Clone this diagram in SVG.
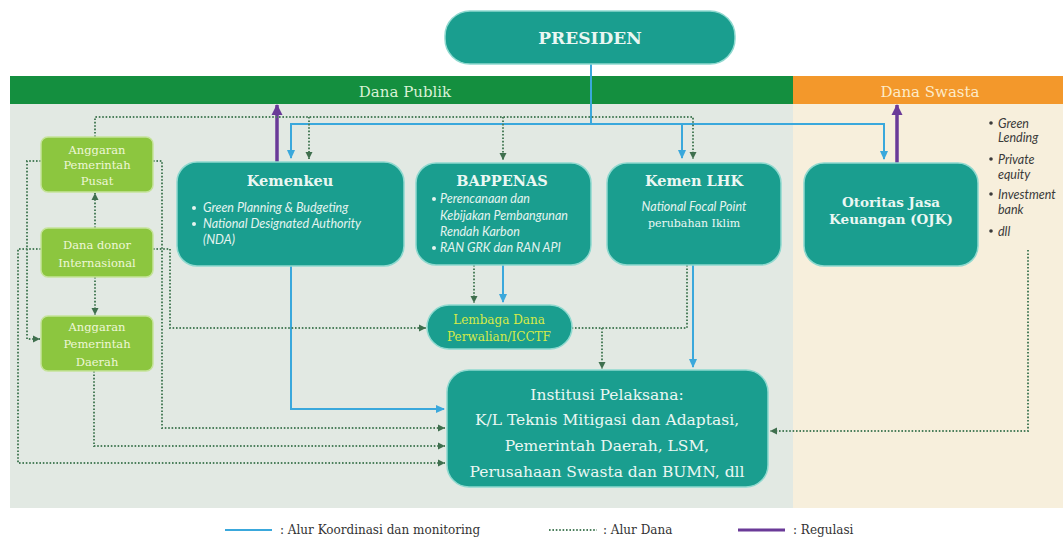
<svg xmlns="http://www.w3.org/2000/svg" width="1063" height="538" viewBox="0 0 1063 538">
<style>
.teal{fill:#1a9e8f;stroke:#8fd9cf;stroke-width:1.5}
.lg{fill:#8cc63f;stroke:#c5e39a;stroke-width:1.5}
.ttl{font-family:"DejaVu Serif",serif;font-weight:bold;fill:#eaf7f3;text-anchor:middle}
.srf{font-family:"DejaVu Serif",serif;fill:#eaf7f3}
.gtx{font-family:"DejaVu Serif",serif;font-size:11.5px;fill:#eef7d8;text-anchor:middle}
.it{font-family:Lato,"Open Sans",sans-serif;font-style:italic;font-size:12.5px;fill:#e4f4ef}
.rb{font-family:Lato,"Open Sans",sans-serif;font-style:italic;font-size:12.5px;fill:#3a3a3a}
.leg{font-family:"DejaVu Serif",serif;font-size:12px;fill:#333}
.blue{fill:none;stroke:#3aa8dc;stroke-width:2}
.dot{fill:none;stroke:#4c7f5c;stroke-width:2;stroke-dasharray:1.6 1.8}
.pur{fill:none;stroke:#6a3a98;stroke-width:3.5}
</style>
<defs>
<marker id="ab" markerUnits="userSpaceOnUse" markerWidth="10" markerHeight="10" refX="8" refY="5" orient="auto"><path d="M0,1 L9,5 L0,9 Z" fill="#3aa8dc"/></marker>
<marker id="ag" markerUnits="userSpaceOnUse" markerWidth="8" markerHeight="8" refX="7" refY="4" orient="auto"><path d="M0,0.5 L7,4 L0,7.5 Z" fill="#3f6f4e"/></marker>
<marker id="ap" markerUnits="userSpaceOnUse" markerWidth="12" markerHeight="12" refX="10" refY="6" orient="auto"><path d="M0,0.5 L11,6 L0,11.5 Z" fill="#6a3a98"/></marker>
</defs>
<rect width="1063" height="538" fill="#ffffff"/>
<g id="panels">
<rect x="10" y="104" width="783" height="404" fill="#e2e9e3"/>
<rect x="793" y="104" width="270" height="404" fill="#f7efdc"/>
<rect x="10" y="76" width="783" height="28" fill="#148f3f"/>
<rect x="793" y="76" width="270" height="28" fill="#f3982b"/>
<text x="405" y="97" font-family="DejaVu Serif,serif" font-size="15" fill="#d9f2d6" text-anchor="middle">Dana Publik</text>
<text x="930" y="97" font-family="DejaVu Serif,serif" font-size="15" fill="#fdebc8" text-anchor="middle">Dana Swasta</text>
</g>
<g id="connectors">
<path class="blue" d="M591,64 V124"/>
<path class="blue" d="M591,124 H291 V158" marker-end="url(#ab)"/>
<path class="blue" d="M591,124 H682 V158" marker-end="url(#ab)"/>
<path class="blue" d="M682,124 H884 V159" marker-end="url(#ab)"/>
<path class="blue" d="M291,266 V409 H444" marker-end="url(#ab)"/>
<path class="blue" d="M503,265 V302" marker-end="url(#ab)"/>
<path class="blue" d="M693,265 V367" marker-end="url(#ab)"/>
<path class="pur" d="M277,162 V105" marker-end="url(#ap)"/>
<path class="pur" d="M897,163 V105" marker-end="url(#ap)"/>
<path class="dot" d="M95,137 V117 H693 V159" marker-end="url(#ag)"/>
<path class="dot" d="M309,117 V159" marker-end="url(#ag)"/>
<path class="dot" d="M503,117 V160" marker-end="url(#ag)"/>
<path class="dot" d="M41,161 H27 V339 H40" marker-end="url(#ag)"/>
<path class="dot" d="M41,249 H18 V463 H445" marker-end="url(#ag)"/>
<path class="dot" d="M153,161 H162 V428 H445" marker-end="url(#ag)"/>
<path class="dot" d="M153,249 H170 V328 H426" marker-end="url(#ag)"/>
<path class="dot" d="M95,228 V193" marker-end="url(#ag)"/>
<path class="dot" d="M95,277 V315" marker-end="url(#ag)"/>
<path class="dot" d="M94,371 V446 H445" marker-end="url(#ag)"/>
<path class="dot" d="M474,265 V303" marker-end="url(#ag)"/>
<path class="dot" d="M687,265 V328 H572"/>
<path class="dot" d="M602,328 V369" marker-end="url(#ag)"/>
<path class="dot" d="M1028,250 V431 H770" marker-end="url(#ag)"/>
</g>
<g id="presiden">
<rect class="teal" x="445" y="11" width="290" height="53" rx="25"/>
<text class="ttl" x="590" y="44" font-size="17">PRESIDEN</text>
</g>
<g id="anggaran-pusat">
<rect class="lg" x="41" y="137" width="112" height="55" rx="7"/>
<text class="gtx" x="97" y="154">Anggaran</text>
<text class="gtx" x="97" y="169">Pemerintah</text>
<text class="gtx" x="97" y="185">Pusat</text>
</g>
<g id="dana-donor">
<rect class="lg" x="41" y="228" width="112" height="49" rx="7"/>
<text class="gtx" x="97" y="249">Dana donor</text>
<text class="gtx" x="97" y="267">Internasional</text>
</g>
<g id="anggaran-daerah">
<rect class="lg" x="41" y="316" width="112" height="55" rx="7"/>
<text class="gtx" x="97" y="331">Anggaran</text>
<text class="gtx" x="97" y="348">Pemerintah</text>
<text class="gtx" x="97" y="366">Daerah</text>
</g>
<g id="kemenkeu">
<rect class="teal" x="177" y="162" width="227" height="104" rx="20"/>
<text class="ttl" x="290" y="186" font-size="14.5">Kemenkeu</text>
<circle cx="194" cy="208" r="2" fill="#e4f4ef"/>
<circle cx="194" cy="224" r="2" fill="#e4f4ef"/>
<text class="it" x="203" y="212">Green Planning &amp; Budgeting</text>
<text class="it" x="203" y="228">National Designated Authority</text>
<text class="it" x="203" y="244">(NDA)</text>
</g>
<g id="bappenas">
<rect class="teal" x="416" y="163" width="175" height="102" rx="20"/>
<text class="ttl" x="502" y="186" font-size="14.5">BAPPENAS</text>
<circle cx="434" cy="199" r="2" fill="#e4f4ef"/>
<circle cx="434" cy="248" r="2" fill="#e4f4ef"/>
<text class="it" x="440" y="203" font-size="11.5">Perencanaan dan</text>
<text class="it" x="440" y="220" font-size="11.5">Kebijakan Pembangunan</text>
<text class="it" x="440" y="236" font-size="11.5">Rendah Karbon</text>
<text class="it" x="440" y="252" font-size="11.5">RAN GRK dan RAN API</text>
</g>
<g id="kemen-lhk">
<rect class="teal" x="607" y="163" width="174" height="102" rx="20"/>
<text class="ttl" x="694" y="186" font-size="14.5">Kemen LHK</text>
<text class="it" x="694" y="211" text-anchor="middle" font-size="12">National Focal Point</text>
<text class="srf" x="694" y="227" font-size="11" text-anchor="middle">perubahan Iklim</text>
</g>
<g id="ojk">
<rect class="teal" x="804" y="163" width="174" height="103" rx="20"/>
<text class="ttl" x="891" y="207" font-size="13.5">Otoritas Jasa</text>
<text class="ttl" x="891" y="224" font-size="13.5">Keuangan (OJK)</text>
</g>
<g id="swasta-list">
<circle cx="991" cy="123" r="1.8" fill="#3a3a3a"/>
<circle cx="991" cy="159" r="1.8" fill="#3a3a3a"/>
<circle cx="991" cy="194" r="1.8" fill="#3a3a3a"/>
<circle cx="991" cy="231" r="1.8" fill="#3a3a3a"/>
<text class="rb" x="998" y="128">Green</text>
<text class="rb" x="998" y="142">Lending</text>
<text class="rb" x="998" y="164">Private</text>
<text class="rb" x="998" y="179">equity</text>
<text class="rb" x="998" y="199">Investment</text>
<text class="rb" x="998" y="214">bank</text>
<text class="rb" x="998" y="236">dll</text>
</g>
<g id="lembaga">
<rect x="427" y="305" width="145" height="44" rx="22" fill="#1a9e8f" stroke="#8fd9cf" stroke-width="1.5"/>
<text x="499" y="324" font-family="DejaVu Serif,serif" font-size="12" fill="#d6ea48" text-anchor="middle">Lembaga Dana</text>
<text x="499" y="341" font-family="DejaVu Serif,serif" font-size="12" fill="#d6ea48" text-anchor="middle">Perwalian/ICCTF</text>
</g>
<g id="institusi">
<rect class="teal" x="447" y="370" width="321" height="117" rx="22"/>
<text class="srf" x="607" y="400" font-size="15.5" text-anchor="middle">Institusi Pelaksana:</text>
<text class="srf" x="607" y="425" font-size="15.5" text-anchor="middle">K/L Teknis Mitigasi dan Adaptasi,</text>
<text class="srf" x="607" y="451" font-size="15.5" text-anchor="middle">Pemerintah Daerah, LSM,</text>
<text class="srf" x="607" y="477" font-size="15.5" text-anchor="middle">Perusahaan Swasta dan BUMN, dll</text>
</g>
<g id="legend">
<path d="M225,530 H272" stroke="#3aa8dc" stroke-width="2" fill="none"/>
<text class="leg" x="280" y="534">: Alur Koordinasi dan monitoring</text>
<path d="M549,530 H597" class="dot"/>
<text class="leg" x="603" y="534">: Alur Dana</text>
<path d="M738,530 H785" stroke="#6a3a98" stroke-width="3" fill="none"/>
<text class="leg" x="793" y="534">: Regulasi</text>
</g>
</svg>
